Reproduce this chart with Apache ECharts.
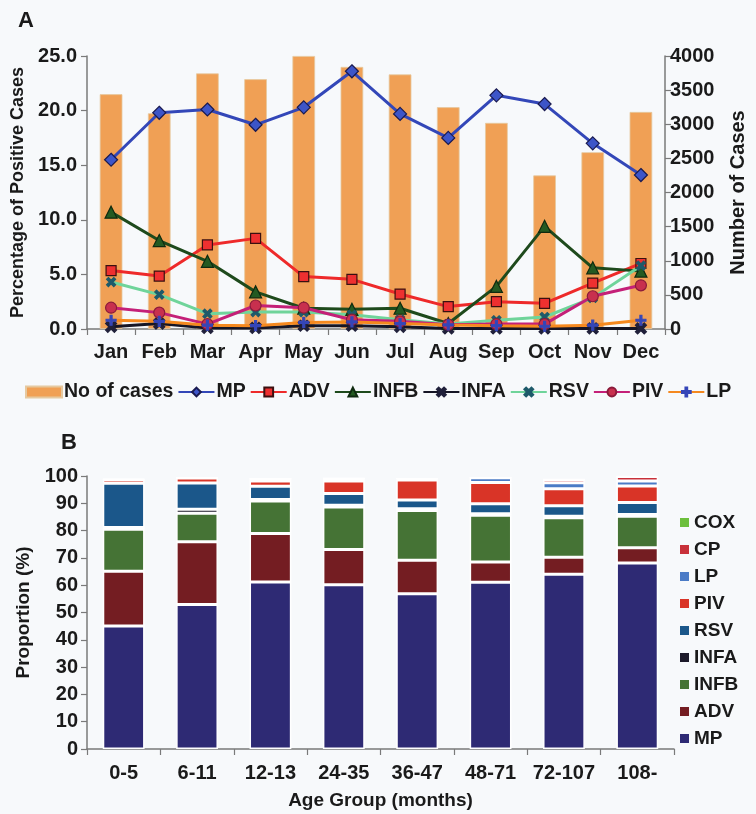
<!DOCTYPE html>
<html><head><meta charset="utf-8">
<script src="https://cdn.jsdelivr.net/npm/echarts@6/dist/echarts.min.js"></script>
<style>html,body{margin:0;padding:0;background:#f7f9fb}#c{width:756px;height:814px}</style>
</head><body><div id="c"></div>
<script>
// ---- Panel A data ----
const months = ['Jan','Feb','Mar','Apr','May','Jun','Jul','Aug','Sep','Oct','Nov','Dec'];
const noOfCases = [3440, 3160, 3745, 3660, 4000, 3840, 3730, 3250, 3020, 2250, 2590, 3180];
const mpPct   = [15.5, 19.8, 20.1, 18.7, 20.3, 23.6, 19.7, 17.5, 21.4, 20.6, 17.0, 14.1];
const advPct  = [5.35, 4.85, 7.7, 8.3, 4.8, 4.55, 3.2, 2.05, 2.5, 2.35, 4.2, 6.0];
const infbPct = [10.7, 8.1, 6.2, 3.4, 1.9, 1.8, 1.9, 0.5, 3.9, 9.4, 5.6, 5.3];
const infaPct = [0.2, 0.5, 0.1, 0.1, 0.3, 0.3, 0.2, 0.05, 0.05, 0.05, 0.05, 0.05];
const rsvPct  = [4.3, 3.15, 1.4, 1.55, 1.55, 1.3, 0.85, 0.45, 0.8, 1.1, 2.85, 5.8];
const pivPct  = [1.95, 1.5, 0.45, 2.15, 1.95, 0.85, 0.7, 0.4, 0.45, 0.45, 3.0, 4.0];
const lpPct   = [0.8, 0.7, 0.35, 0.3, 0.6, 0.65, 0.5, 0.37, 0.3, 0.25, 0.35, 0.8];
const leftTicks = [0, 25, 5];      // min, max, interval
const rightTicks = [0, 4000, 500];

// ---- Panel B data ----
const ageGroups = ['0-5','6-11','12-13','24-35','36-47','48-71','72-107','108-'];
const bMP   = [45.1, 52.9, 61.2, 60.2, 56.9, 61.1, 64.0, 68.1];
const bADV  = [20.0, 23.0, 17.7, 12.9, 12.2, 7.4, 6.2, 5.6];
const bINFB = [15.4, 10.5, 11.9, 15.5, 18.3, 17.1, 14.5, 11.6];
const bINFA = [0.6, 1.4, 0.6, 0.7, 0.6, 0.6, 0.6, 0.6];
const bRSV  = [16.2, 9.6, 4.8, 4.3, 3.2, 3.6, 3.8, 4.4];
const bPIV  = [1.3, 1.9, 2.0, 4.6, 7.3, 7.8, 6.2, 6.0];
const bLP   = [0, 0, 0.8, 0.9, 0.5, 1.8, 2.2, 1.9];
const bCP   = [0.2, 0, 0, 0, 0, 0, 1.2, 1.6];
const bCOX  = [0, 0, 0, 0, 0, 0, 0, 0];
const pTicks = [0, 100, 10];

const FF = "'Liberation Sans',Arial,sans-serif";
const TXT = {fontFamily: FF, fontWeight: 'bold', fontSize: 20, color: '#1a1a1a'};
const t = (o) => Object.assign({}, TXT, o || {});
const X_SYM = 'path://M2,0 L5,3 L8,0 L10,2 L7,5 L10,8 L8,10 L5,7 L2,10 L0,8 L3,5 L0,2 Z';
const PLUS_SYM = 'path://M4,0 H6 V4 H10 V6 H6 V10 H4 V6 H0 V4 H4 Z';
const AXC = '#7a7a7a';

function lineSeries(name, data, color, symbol, symColor, size, border) {
  return {
    name, type: 'line', xAxisIndex: 0, yAxisIndex: 0, data,
    symbol, symbolSize: size, z: 5,
    lineStyle: {color, width: 3},
    itemStyle: {color: symColor, borderColor: border, borderWidth: 1.2}
  };
}

const stackColors = {MP:'#2e2a74', ADV:'#741d22', INFB:'#457335', INFA:'#1c1a2a', RSV:'#1b578a', PIV:'#d93427', LP:'#4b7bc6', CP:'#c8313a', COX:'#6cbf3c'};
function stackSeries(name, data) {
  return {
    name, type: 'bar', stack: 'b', xAxisIndex: 1, yAxisIndex: 2, data,
    barWidth: '57%',
    itemStyle: {color: stackColors[name], borderColor: '#ffffff', borderWidth: 1.5}
  };
}

const chart = echarts.init(document.getElementById('c'));
chart.setOption({
  backgroundColor: '#f7f9fb',
  animation: false,
  textStyle: {fontFamily: FF},
  title: [
    {text: 'A', left: 13, top: 5, textStyle: t({fontSize: 22})},
    {text: 'B', left: 56, top: 427, textStyle: t({fontSize: 22})}
  ],
  grid: [
    {left: 87, right: 91, top: 56, height: 273},
    {left: 87, right: 82, top: 476, height: 273}
  ],
  legend: [
    {
      left: 20, top: 377, width: 745, itemGap: 4, itemWidth: 36, itemHeight: 11,
      textStyle: t({fontSize: 19.5, padding: [0, 0, 0, -3]}),
      data: [
        {name: 'No of cases', icon: 'rect'},
        'MP','ADV','INFB','INFA','RSV','PIV','LP'
      ]
    },
    {
      orient: 'vertical', left: 675, top: 508, itemGap: 8, itemWidth: 9, itemHeight: 9,
      icon: 'rect',
      textStyle: t({fontSize: 19}),
      data: ['COX','CP','LP','PIV','RSV','INFA','INFB','ADV','MP'].map(n => ({name: n, itemStyle: {color: stackColors[n], borderColor: stackColors[n], borderWidth: 0}}))
    }
  ],
  xAxis: [
    {
      type: 'category', gridIndex: 0, data: months,
      axisLine: {lineStyle: {color: AXC, width: 1.5}},
      axisTick: {show: true, length: 6, lineStyle: {color: AXC, width: 1.2}},
      axisLabel: t({margin: 13, interval: 0})
    },
    {
      type: 'category', gridIndex: 1, data: ageGroups,
      axisLine: {lineStyle: {color: AXC, width: 1.5}},
      axisTick: {show: true, length: 6, lineStyle: {color: AXC, width: 1.2}},
      axisLabel: t({margin: 14, interval: 0}),
      name: 'Age Group (months)', nameLocation: 'middle', nameGap: 42,
      nameTextStyle: t({fontSize: 19})
    }
  ],
  yAxis: [
    {
      type: 'value', gridIndex: 0, min: leftTicks[0], max: leftTicks[1], interval: leftTicks[2],
      splitLine: {show: false},
      axisLine: {show: true, lineStyle: {color: AXC, width: 1.5}},
      axisTick: {show: true, length: 6, lineStyle: {color: AXC, width: 1.2}},
      axisLabel: t({margin: 10, formatter: v => v.toFixed(1)}),
      name: 'Percentage of Positive Cases', nameLocation: 'middle', nameRotate: 90, nameGap: 57,
      nameTextStyle: t({fontSize: 18})
    },
    {
      type: 'value', gridIndex: 0, position: 'right', min: rightTicks[0], max: rightTicks[1], interval: rightTicks[2],
      splitLine: {show: false},
      axisLine: {show: true, lineStyle: {color: AXC, width: 1.5}},
      axisTick: {show: true, length: 6, lineStyle: {color: AXC, width: 1.2}},
      axisLabel: t({margin: 5, formatter: v => String(v)}),
      name: 'Number of Cases', nameLocation: 'middle', nameRotate: 90, nameGap: 63,
      nameTextStyle: t({fontSize: 20})
    },
    {
      type: 'value', gridIndex: 1, min: pTicks[0], max: pTicks[1], interval: pTicks[2],
      splitLine: {show: false},
      axisLine: {show: true, lineStyle: {color: AXC, width: 1.5}},
      axisTick: {show: true, length: 6, lineStyle: {color: AXC, width: 1.2}},
      axisLabel: t({margin: 9}),
      name: 'Proportion (%)', nameLocation: 'middle', nameRotate: 90, nameGap: 52,
      nameTextStyle: t({fontSize: 19})
    }
  ],
  series: [
    {
      name: 'No of cases', type: 'bar', xAxisIndex: 0, yAxisIndex: 1, data: noOfCases,
      barWidth: '47%', z: 1,
      itemStyle: {color: '#f0a055', borderColor: '#e6c9a0', borderWidth: 0.8}
    },
    lineSeries('MP', mpPct, '#3347b8', 'diamond', '#3d55c8', 13, '#1a1a50'),
    lineSeries('ADV', advPct, '#ee2a2a', 'rect', '#ee3030', 10, '#3a1010'),
    lineSeries('INFB', infbPct, '#1e4a1c', 'triangle', '#245a22', 12, '#0f2a0f'),
    lineSeries('INFA', infaPct, '#151525', X_SYM, '#20203a', 11, '#20203a'),
    lineSeries('RSV', rsvPct, '#6fd49a', X_SYM, '#1e5a6a', 9, '#1e5a6a'),
    lineSeries('PIV', pivPct, '#c42078', 'circle', '#c8304e', 11, '#8a1a3a'),
    lineSeries('LP', lpPct, '#f5891f', PLUS_SYM, '#3546b8', 10, '#3546b8'),
    stackSeries('MP', bMP),
    stackSeries('ADV', bADV),
    stackSeries('INFB', bINFB),
    stackSeries('INFA', bINFA),
    stackSeries('RSV', bRSV),
    stackSeries('PIV', bPIV),
    stackSeries('LP', bLP),
    stackSeries('CP', bCP),
    stackSeries('COX', bCOX)
  ]
});
</script></body></html>
